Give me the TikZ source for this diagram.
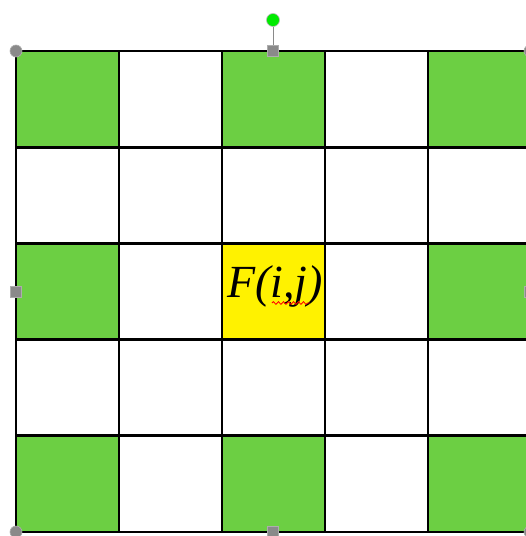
\documentclass[tikz,border=0pt]{standalone}
\usepackage{fontspec}
\setmainfont{Liberation Serif}
\usetikzlibrary{decorations.pathmorphing}
\definecolor{cellgreen}{RGB}{108,207,67}
\definecolor{handlegrey}{RGB}{138,138,138}
\definecolor{rotgreen}{RGB}{0,235,0}
\tikzset{
  cell/.style={draw=black, line width=2.8pt, minimum width=103pt, minimum height=96.2pt, inner sep=0pt, outer sep=0pt},
  greencell/.style={cell, fill=cellgreen},
  whitecell/.style={cell, fill=white},
  yellowcell/.style={cell, fill=yellow},
  cornerhandle/.style={circle, fill=handlegrey, draw=handlegrey!70!white, line width=0.6pt, minimum size=12pt, inner sep=0pt},
  sidehandle/.style={rectangle, fill=handlegrey, draw=handlegrey!70!white, line width=0.6pt, minimum size=11pt, inner sep=0pt},
  rothandle/.style={circle, fill=rotgreen, draw=handlegrey!60!white, line width=0.6pt, minimum size=13pt, inner sep=0pt},
}
\begin{document}
\begin{tikzpicture}[x=1pt,y=-1pt]
\useasboundingbox (0,0) rectangle (526,536);
\fill[white] (0,0) rectangle (526,536);
% grid cells
\foreach \r in {0,...,4}{
  \foreach \c in {0,...,4}{
    \pgfmathtruncatemacro{\isgreen}{(mod(\r,2)==0 && mod(\c,2)==0 && !(\r==2 && \c==2)) ? 1 : 0}
    \ifnum\r=2 \ifnum\c=2 \def\isgreen{2}\fi\fi
    \ifnum\isgreen=1
      \node[greencell] (c-\r-\c) at ({16+103*\c+51.5},{51+96.2*\r+48.1}) {};
    \else\ifnum\isgreen=2
      \node[yellowcell] (c-\r-\c) at ({16+103*\c+51.5},{51+96.2*\r+48.1}) {};
    \else
      \node[whitecell] (c-\r-\c) at ({16+103*\c+51.5},{51+96.2*\r+48.1}) {};
    \fi\fi
  }
}
% the label
\node[font=\fontsize{46}{46}\selectfont\itshape, inner sep=0pt, anchor=base] (F) at (275,297) {F(i,j)};
\draw[red, line width=0.8pt, decorate, decoration={snake, amplitude=1.4pt, segment length=5pt}] ([xshift=45pt,yshift=-6pt]F.base west) -- ([xshift=83pt,yshift=-6pt]F.base west);
% selection handles
\coordinate (TL) at (16,51);
\coordinate (BL) at (16,532);
\coordinate (TM) at (273,51);
\coordinate (BM) at (273,532);
\coordinate (LM) at (16,292);
\coordinate (RM) at (530,292);
\coordinate (TR) at (530,51);
\coordinate (BR) at (530,532);
\node[rothandle] (rot) at (273,20) {};
\draw[handlegrey, line width=0.8pt] (rot.south) -- (TM);
\foreach \p in {TL,BL,TR,BR}{\node[cornerhandle] at (\p) {};}
\foreach \p in {TM,BM,LM,RM}{\node[sidehandle] at (\p) {};}
\end{tikzpicture}
\end{document}
